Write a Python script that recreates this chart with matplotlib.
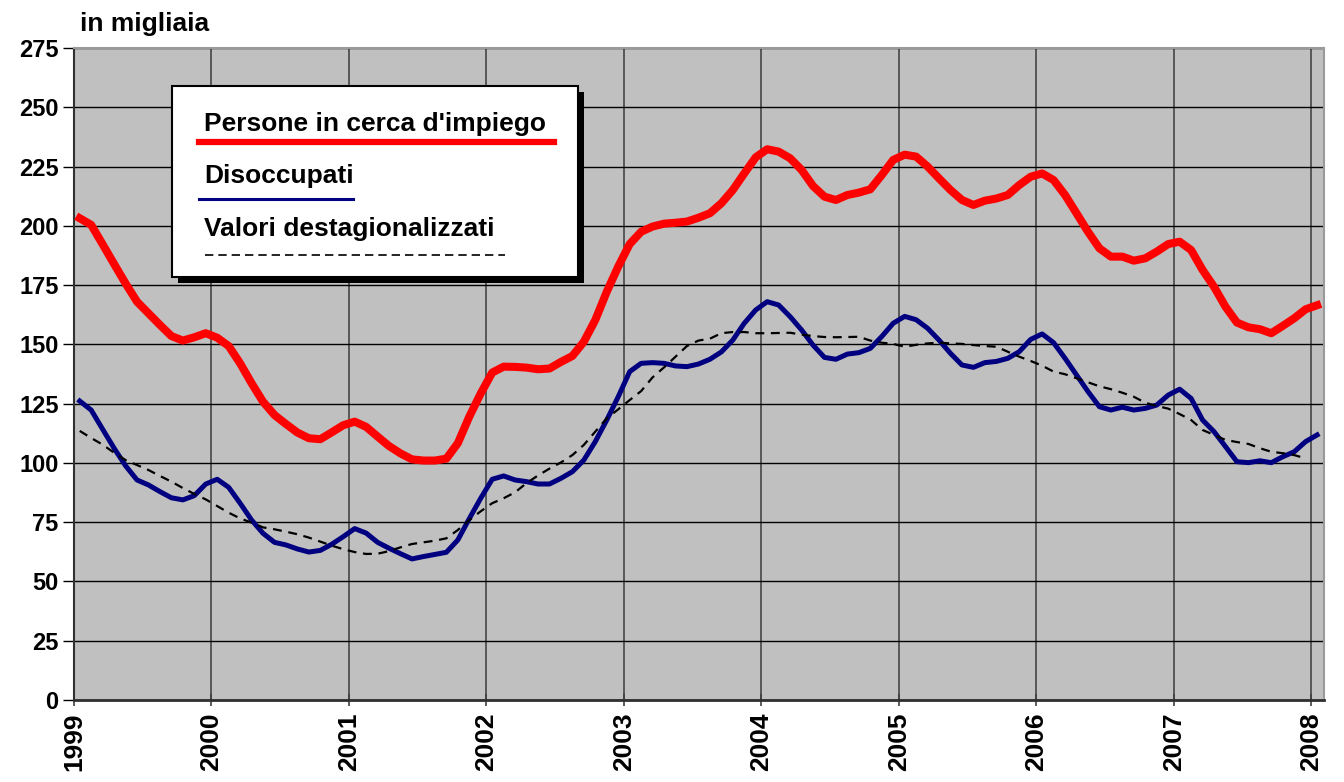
import numpy as np
import matplotlib.pyplot as plt
from matplotlib.lines import Line2D
from matplotlib.patches import Rectangle

# monthly values, Jan 1999 - Jan 2008 (thousands)
years = ["1999", "2000", "2001", "2002", "2003", "2004", "2005", "2006", "2007", "2008"]

persone = [203.2, 200.4, 192.2, 183.9, 175.7, 168.0, 163.1, 158.2, 153.5, 151.6, 153.0, 154.7,
           152.8, 149.3, 142.0, 133.6, 125.8, 120.2, 116.4, 112.8, 110.4, 110.0, 112.9, 115.9,
           117.4, 115.2, 111.1, 107.1, 104.0, 101.5, 101.0, 101.0, 101.8, 108.3, 119.5, 129.3,
           138.1, 140.6, 140.5, 140.2, 139.5, 139.8, 142.6, 145.1, 151.1, 160.3, 172.2, 182.8,
           192.3, 197.5, 199.7, 200.9, 201.3, 201.8, 203.4, 205.3, 209.5, 215.1, 222.1, 228.9,
           232.3, 231.3, 228.5, 223.6, 216.8, 212.3, 210.9, 213.0, 214.0, 215.4, 221.4, 227.8,
           230.0, 229.2, 225.0, 220.0, 215.1, 210.9, 208.8, 210.6, 211.5, 213.0, 217.2, 220.7,
           222.1, 219.3, 213.0, 205.3, 197.5, 190.5, 187.0, 187.0, 185.3, 186.3, 189.1, 192.3,
           193.3, 189.8, 181.4, 174.3, 165.9, 159.2, 157.2, 156.4, 154.7, 157.8, 161.0, 164.8,
           166.5]

disoccupati = [126.1, 122.3, 114.2, 106.2, 98.8, 92.8, 90.7, 87.9, 85.3, 84.4, 86.2, 91.1,
               93.1, 89.7, 83.0, 75.9, 70.3, 66.5, 65.4, 63.7, 62.4, 63.1, 65.7, 68.9,
               72.3, 70.4, 66.5, 64.0, 61.7, 59.5, 60.5, 61.4, 62.3, 67.5, 76.5, 85.1,
               93.1, 94.5, 92.8, 92.1, 91.1, 91.1, 93.5, 96.3, 101.2, 109.0, 118.1, 127.9,
               138.5, 142.0, 142.3, 142.0, 140.9, 140.6, 141.7, 143.7, 146.8, 151.8, 158.9, 164.5,
               168.0, 166.6, 161.7, 156.1, 149.7, 144.5, 143.7, 145.9, 146.5, 148.3, 153.3, 158.9,
               161.8, 160.4, 156.8, 151.8, 146.2, 141.3, 140.3, 142.3, 142.8, 144.1, 146.9, 152.1,
               154.4, 150.7, 144.1, 137.1, 130.1, 123.7, 122.3, 123.5, 122.3, 123.0, 124.4, 128.6,
               131.1, 127.2, 118.1, 113.2, 106.9, 100.5, 100.1, 100.9, 100.1, 102.6, 104.7, 109.0,
               111.8]

destag = [113.5, 110.5, 107.7, 104.3, 101.2, 99.1, 97.0, 94.5, 92.1, 89.4, 86.9, 84.6,
          81.8, 79.0, 76.6, 74.8, 72.8, 72.0, 71.0, 69.9, 68.5, 66.8, 65.1, 63.6,
          62.4, 61.6, 61.7, 62.8, 64.4, 65.8, 66.5, 67.2, 68.2, 71.7, 75.9, 79.6,
          83.0, 85.1, 87.6, 91.5, 94.7, 97.6, 100.2, 103.3, 107.6, 113.2, 118.8, 122.6,
          126.5, 130.3, 136.1, 140.3, 144.8, 149.3, 151.6, 152.4, 154.7, 155.2, 155.2, 154.7,
          154.7, 154.8, 154.9, 154.1, 153.5, 153.1, 153.0, 153.1, 153.2, 151.6, 150.7, 150.2,
          149.0, 149.8, 150.4, 150.7, 150.4, 150.2, 149.7, 149.3, 149.0, 146.9, 144.8, 143.0,
          141.0, 138.5, 137.4, 135.7, 134.0, 132.3, 131.1, 129.6, 127.9, 125.4, 124.0, 122.9,
          120.6, 118.1, 113.9, 111.8, 109.7, 108.8, 108.0, 106.2, 104.7, 104.1, 103.3, 101.9]

W, H = 1344, 782
plt.rcParams['font.family'] = ['Liberation Sans', 'DejaVu Sans']
plt.rcParams['font.weight'] = 'bold'

fig = plt.figure(figsize=(W / 100, H / 100), dpi=100)
ax = fig.add_axes([74 / W, 1 - 700 / H, (1324 - 74) / W, (700 - 48) / H])
ax.set_facecolor('#c0c0c0')


def px(x, y):
    return (x / W, 1 - y / H)


x1 = np.arange(len(persone)) + 0.5
x3 = np.arange(len(destag)) + 0.5

ax.plot(x1, disoccupati, color='#000080', lw=3.6, zorder=4, solid_joinstyle='round')
ax.plot(x3, destag, color='black', lw=1.6, linestyle=(0, (4, 3)), zorder=4.5)
ax.plot(x1, persone, color='#ff0000', lw=5.8, zorder=5, solid_joinstyle='round')

ax.set_xlim(0, 109.1)
ax.set_ylim(0, 275)
ax.set_yticks(np.arange(0, 276, 25))
ax.set_xticks(np.arange(0, 109, 12))
ax.set_xticklabels(years, rotation=90, fontsize=19, fontweight='bold')
ax.tick_params(axis='y', labelsize=17, length=8, width=1, direction='out', pad=3)
ax.tick_params(axis='x', length=8, width=1.2, direction='inout', pad=5, color='#404040')
for lbl in ax.get_yticklabels():
    lbl.set_fontweight('bold')

ax.grid(axis='y', color='black', lw=1)
ax.grid(axis='x', color='#505050', lw=1.3)
ax.set_axisbelow(True)
for s in ['top', 'right']:
    ax.spines[s].set_color('#9a9a9a')
    ax.spines[s].set_linewidth(1.5)
ax.spines['left'].set_color('#303030')
ax.spines['left'].set_linewidth(1.5)
ax.spines['bottom'].set_color('#303030')
ax.spines['bottom'].set_linewidth(2)

fig.text(*px(80, 24), "in migliaia", fontsize=19, fontweight='bold', va='center', ha='left')

# legend box with shadow
x0, y0, x1b, y1b = 172, 86, 578, 277
fig.patches.append(Rectangle(px(x0 + 6, y1b + 6), (x1b - x0) / W, (y1b - y0) / H,
                             transform=fig.transFigure, facecolor='black', edgecolor='none', zorder=8))
fig.patches.append(Rectangle(px(x0, y1b), (x1b - x0) / W, (y1b - y0) / H,
                             transform=fig.transFigure, facecolor='white', edgecolor='black',
                             lw=1.5, zorder=9))

fig.text(*px(204, 124), "Persone in cerca d'impiego", fontsize=19, fontweight='bold',
         va='center', ha='left', zorder=10)
fig.lines.append(Line2D([199 / W, 554 / W], [1 - 142 / H] * 2, transform=fig.transFigure,
                        color='#ff0000', lw=4.5, zorder=10))
fig.text(*px(204, 176), "Disoccupati", fontsize=19, fontweight='bold',
         va='center', ha='left', zorder=10)
fig.lines.append(Line2D([199 / W, 353 / W], [1 - 199 / H] * 2, transform=fig.transFigure,
                        color='#000080', lw=2.2, zorder=10))
fig.text(*px(204, 229), "Valori destagionalizzati", fontsize=19, fontweight='bold',
         va='center', ha='left', zorder=10)
fig.lines.append(Line2D([205 / W, 505 / W], [1 - 255 / H] * 2, transform=fig.transFigure,
                        color='black', lw=1.2, linestyle=(0, (5, 3)), zorder=10))

plt.savefig("out.png", dpi=100)
